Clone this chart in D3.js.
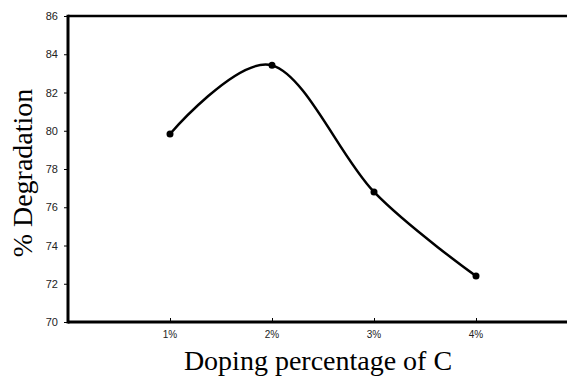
<!DOCTYPE html>
<html><head><meta charset="utf-8">
<script src="https://cdn.jsdelivr.net/npm/d3@7"></script>
<style>body{margin:0;background:#fff}svg{display:block}</style>
</head><body>
<svg id="c" width="567" height="377"></svg>
<script>
const categories = ["1%", "2%", "3%", "4%"];
const xPositions = [1, 2, 3, 4];
const degradation = [79.83, 83.42, 76.8, 72.4];
const yTicks = [70, 72, 74, 76, 78, 80, 82, 84, 86];

const svg = d3.select("#c");
const mLeft = 68, mTop = 16, mBottom = 322, mRight = 578;
const x = d3.scaleLinear().domain([0, 5]).range([mLeft, mRight]);
const y = d3.scaleLinear().domain([70, 86]).range([mBottom, mTop]);

// y axis ticks and labels
const ya = svg.append("g").attr("transform", `translate(${mLeft},0)`)
  .call(d3.axisLeft(y).tickValues(yTicks).tickSize(4).tickSizeOuter(0).tickPadding(6));
ya.select(".domain").remove();
ya.selectAll("text").attr("font-family", "Liberation Sans, Arial, sans-serif").attr("font-size", 11).attr("fill", "#222");
ya.selectAll("line").attr("stroke", "#000");

// x axis ticks (inside) and labels
const xa = svg.append("g").attr("transform", `translate(0,${mBottom})`)
  .call(d3.axisTop(x).tickValues(xPositions).tickSize(4).tickSizeOuter(0).tickFormat(""));
xa.select(".domain").remove();
xa.selectAll("line").attr("stroke", "#000");
svg.append("g").selectAll("text").data(categories).join("text")
  .attr("x", (d, i) => x(xPositions[i])).attr("y", 338)
  .attr("text-anchor", "middle")
  .attr("font-family", "Liberation Sans, Arial, sans-serif").attr("font-size", 10).attr("fill", "#222")
  .text(d => d);

// frame lines
svg.append("line").attr("x1", mLeft).attr("x2", 567).attr("y1", y(86)).attr("y2", y(86)).attr("stroke", "#000").attr("stroke-width", 2.5);
svg.append("line").attr("x1", mLeft).attr("x2", 567).attr("y1", y(70)).attr("y2", y(70)).attr("stroke", "#000").attr("stroke-width", 3);
svg.append("line").attr("x1", mLeft).attr("x2", mLeft).attr("y1", y(86) - 1.2).attr("y2", y(70) + 1.5).attr("stroke", "#000").attr("stroke-width", 3);

// smooth line
const pts = xPositions.map((p, i) => [p, degradation[i]]);
svg.append("path").datum(pts)
  .attr("d", d3.line().x(d => x(d[0])).y(d => y(d[1])).curve(d3.curveCardinal.tension(0)))
  .attr("fill", "none").attr("stroke", "#000").attr("stroke-width", 2.5);
svg.append("g").selectAll("circle").data(pts).join("circle")
  .attr("cx", d => x(d[0])).attr("cy", d => y(d[1])).attr("r", 3.5).attr("fill", "#000");

// axis titles
svg.append("text").attr("x", 318).attr("y", 370).attr("text-anchor", "middle")
  .attr("font-family", "Liberation Serif, Times New Roman, serif").attr("font-size", 28).attr("fill", "#000")
  .text("Doping percentage of C");
svg.append("text").attr("transform", "translate(32,173) rotate(-90)").attr("text-anchor", "middle")
  .attr("font-family", "Liberation Serif, Times New Roman, serif").attr("font-size", 28).attr("fill", "#000")
  .text("% Degradation");
</script>
</body></html>
